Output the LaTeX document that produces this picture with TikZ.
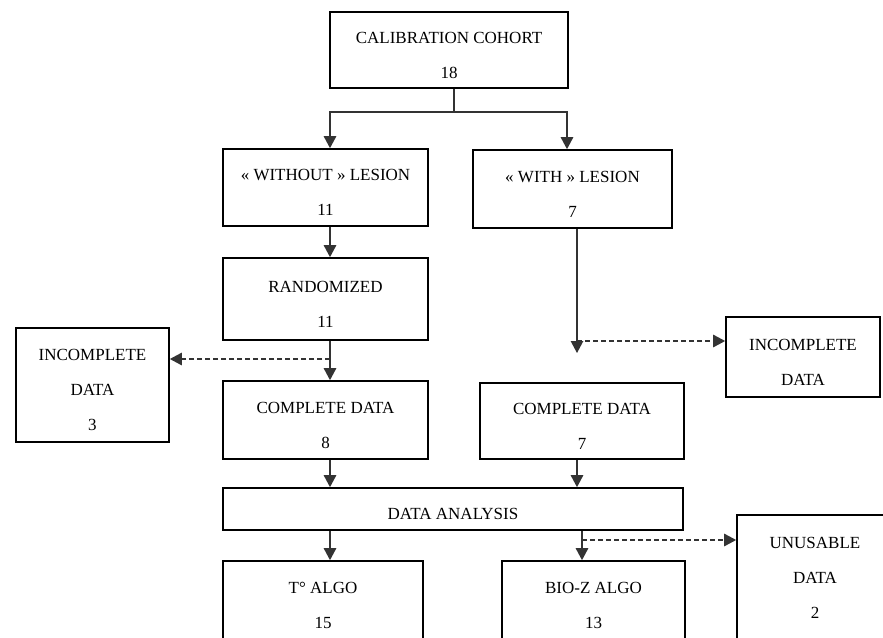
\documentclass[tikz,border=0pt]{standalone}
\usepackage{fontspec}
\setmainfont{Liberation Serif}
\usetikzlibrary{arrows.meta}
\newcommand\toppad{\rule{0pt}{21.5pt}}
\begin{document}
\begin{tikzpicture}[x=1pt,y=-1pt,
  box/.style={draw=black, line width=1.7pt, inner sep=0pt, align=center,
    font=\fontsize{17}{35}\selectfont},
  conn/.style={draw=black!80, line width=1.2pt},
  arr/.style={conn, -{Triangle[width=12.5pt,length=12pt]}},
  darr/.style={arr, dash pattern=on 5pt off 3pt}]
\useasboundingbox (0,0) rectangle (883,637);
\clip (0,0) rectangle (883,637);
\fill[white] (0,0) rectangle (883,637);

\node[box, minimum width=238pt, minimum height=76pt] (cal) at (449,50) {\toppad CALIBRATION COHORT\\18};
\node[box, minimum width=205pt, minimum height=77pt] (without) at (325.5,187.5) {\toppad « WITHOUT » LESION\\11};
\node[box, minimum width=199pt, minimum height=78pt] (with) at (572.5,189) {\toppad « WITH » LESION\\7};
\node[box, minimum width=205pt, minimum height=82pt] (rand) at (325.5,299) {\toppad RANDOMIZED\\11};
\node[box, minimum width=153pt, minimum height=114pt] (incL) at (92.5,385) {\toppad INCOMPLETE\\DATA\\3};
\node[box, minimum width=154pt, minimum height=80pt] (incR) at (803,357) {\toppad INCOMPLETE\\DATA};
\node[box, minimum width=205pt, minimum height=78pt] (compL) at (325.5,420) {\toppad COMPLETE DATA\\8};
\node[box, minimum width=204pt, minimum height=76pt] (compR) at (582,421) {\toppad COMPLETE DATA\\7};
\node[box, minimum width=460pt, minimum height=42pt] (analysis) at (453,509) {\toppad DATA ANALYSIS};
\node[box, minimum width=200pt, minimum height=79pt] (talgo) at (323,600.5) {\toppad T° ALGO\\15};
\node[box, minimum width=183pt, minimum height=79pt] (bioz) at (593.5,600.5) {\toppad BIO-Z ALGO\\13};
\node[box, minimum width=156pt, minimum height=126pt] (unus) at (815,578) {UNUSABLE\\DATA\\2};

\coordinate (j1) at (454,112);
\coordinate (a1) at (330,112);
\coordinate (a2) at (567,112);
\coordinate (xL) at (330,0);
\coordinate (xR) at (577,0);
\coordinate (xB) at (582,0);
\coordinate (d1) at (330,359);
\coordinate (d2) at (577,341);
\coordinate (pR) at (577,353);
\coordinate (d3) at (582,540);

\draw[conn] (j1 |- cal.south) -- (j1);
\draw[arr] (j1) -- (a1) -- (a1 |- without.north);
\draw[arr] (j1) -- (a2) -- (a2 |- with.north);
\draw[arr] (xL |- without.south) -- (xL |- rand.north);
\draw[arr] (xL |- rand.south) -- (xL |- compL.north);
\draw[darr] (d1) -- (incL.east |- d1);
\draw[arr] (xR |- with.south) -- (pR);
\draw[darr] (d2) -- (incR.west |- d2);
\draw[arr] (xL |- compL.south) -- (xL |- analysis.north);
\draw[arr] (xR |- compR.south) -- (xR |- analysis.north);
\draw[arr] (xL |- analysis.south) -- (xL |- talgo.north);
\draw[arr] (xB |- analysis.south) -- (xB |- bioz.north);
\draw[darr] (d3) -- (unus.west |- d3);
\end{tikzpicture}
\end{document}
